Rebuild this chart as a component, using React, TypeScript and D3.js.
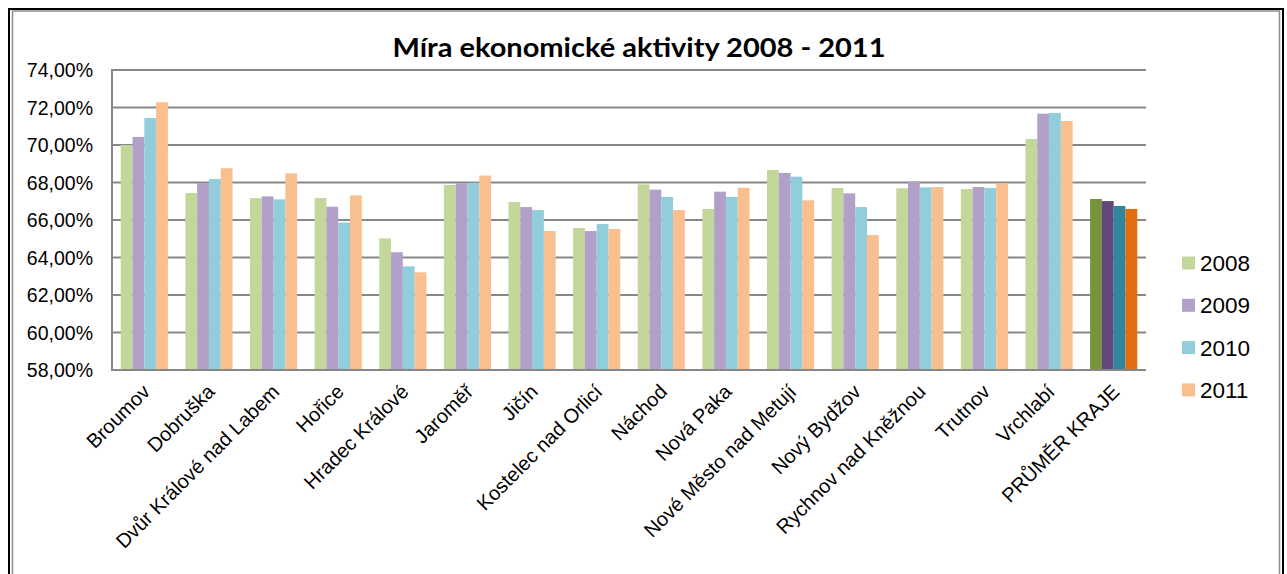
import React from "react";
import * as d3 from "d3";

const categories = [
  "Broumov", "Dobruška", "Dvůr Králové nad Labem", "Hořice", "Hradec Králové",
  "Jaroměř", "Jičín", "Kostelec nad Orlicí", "Náchod", "Nová Paka",
  "Nové Město nad Metují", "Nový Bydžov", "Rychnov nad Kněžnou", "Trutnov",
  "Vrchlabí", "PRŮMĚR KRAJE",
];
const years = ["2008", "2009", "2010", "2011"];
const v2008 = [70.0, 67.44, 67.17, 67.17, 65.02, 67.87, 66.96, 65.57, 67.9, 66.59, 68.67, 67.71, 67.69, 67.65, 70.32, 67.12];
const v2009 = [70.43, 67.97, 67.26, 66.71, 64.28, 67.96, 66.69, 65.41, 67.62, 67.51, 68.51, 67.42, 68.05, 67.76, 71.67, 67.01];
const v2010 = [71.44, 68.19, 67.1, 65.86, 63.53, 67.98, 66.53, 65.79, 67.23, 67.23, 68.31, 66.69, 67.74, 67.71, 71.71, 66.75];
const v2011 = [72.28, 68.76, 68.49, 67.31, 63.21, 68.37, 65.41, 65.52, 66.53, 67.72, 67.05, 65.2, 67.76, 67.94, 71.28, 66.59];
const series = [v2008, v2009, v2010, v2011];
const yTicks = [58, 60, 62, 64, 66, 68, 70, 72, 74];

const lightColors = ["#C4D79B", "#B1A0C7", "#92CDDC", "#FABF8F"];
const darkColors = ["#77933C", "#604A7B", "#31859C", "#E46C0A"];

export default function App() {
  const W = 1287, H = 574;
  const left = 112, right = 1146, top = 70, bottom = 370;
  const x0 = d3.scaleBand<string>().domain(categories).range([left, right]).paddingInner(0.27).paddingOuter(0.135);
  const x1 = d3.scaleBand<string>().domain(years).range([0, x0.bandwidth()]);
  const y = d3.scaleLinear().domain([58, 74]).range([bottom, top]);
  const fmt = (v: number) => v.toFixed(2).replace(".", ",") + "%";
  const xc = d3.scaleBand<string>().domain(categories).range([left, right]);

  return (
    <svg width={W} height={H} style={{ position: "absolute", left: 0, top: 0, background: "#fff" }}>
      <rect x={0} y={0} width={W} height={H} fill="#fff" />
      {/* outer frame */}
      <rect x={9} y={9} width={1274} height={H + 10} fill="none" stroke="#000" strokeWidth={2} />
      <rect x={12.5} y={11} width={1267} height={H + 10} fill="none" stroke="#8c8c8c" strokeWidth={1.5} />
      {/* title */}
      <text x={639} y={57} textAnchor="middle" fontFamily="Lato, 'Open Sans', sans-serif" fontWeight="bold" fontSize={26} textLength={493} lengthAdjust="spacingAndGlyphs" fill="#000">
        Míra ekonomické aktivity 2008 - 2011
      </text>
      {/* gridlines */}
      {yTicks.map((t) => (
        <line key={t} x1={left} x2={right} y1={y(t)} y2={y(t)} stroke="#878787" strokeWidth={2} />
      ))}
      {/* bars */}
      {categories.map((c, i) => (
        <g key={c} transform={`translate(${x0(c)},0)`}>
          {series.map((s, j) => (
            <rect key={j} x={x1(years[j])} y={y(s[i])} width={x1.bandwidth()} height={y(58) - y(s[i])}
              fill={i === categories.length - 1 ? darkColors[j] : lightColors[j]} />
          ))}
        </g>
      ))}
      {/* axes */}
      <line x1={left} x2={left} y1={top - 1} y2={bottom + 1} stroke="#878787" strokeWidth={2} />
      <line x1={left} x2={right} y1={bottom} y2={bottom} stroke="#878787" strokeWidth={2} />
      {yTicks.map((t) => (
        <text key={t} x={93} y={y(t) + 7} textAnchor="end" fontFamily="'Liberation Sans', Arial, sans-serif" fontSize={19.5} fill="#000">
          {fmt(t)}
        </text>
      ))}
      {categories.map((c) => {
        const cx = (xc(c) as number) + xc.bandwidth() / 2 + 7;
        const cy = 393;
        return (
          <text key={c} transform={`translate(${cx},${cy}) rotate(-45)`} textAnchor="end" fontFamily="'Liberation Sans', Arial, sans-serif" fontSize={20} fill="#000">
            {c}
          </text>
        );
      })}
      {/* legend */}
      {years.map((yr, j) => (
        <g key={yr} transform={`translate(1182,${263 + j * 42.3})`}>
          <rect x={0} y={-6.5} width={13} height={13} fill={lightColors[j]} />
          <text x={18} y={8} fontFamily="'Liberation Sans', Arial, sans-serif" fontSize={22.5} fill="#000">{yr}</text>
        </g>
      ))}
    </svg>
  );
}
